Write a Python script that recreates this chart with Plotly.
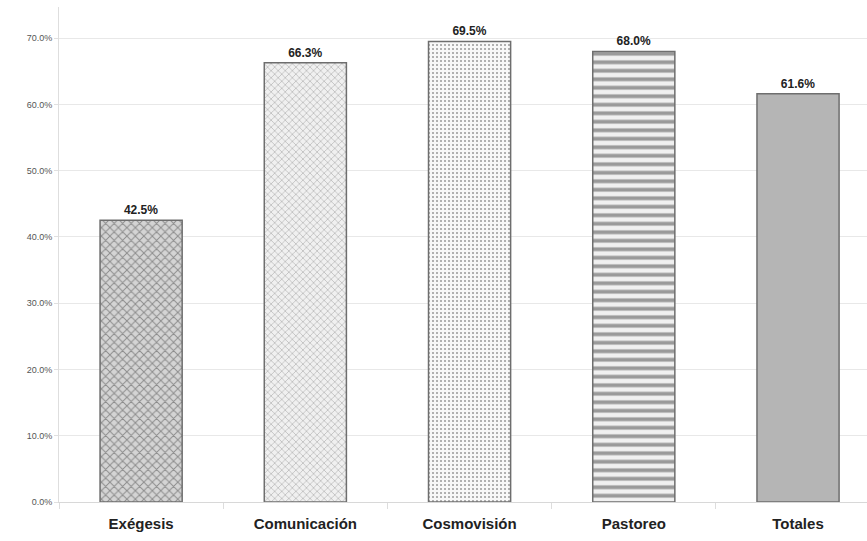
import plotly.graph_objects as go

categories = ["Exégesis", "Comunicación", "Cosmovisión", "Pastoreo", "Totales"]
values = [42.5, 66.3, 69.5, 68.0, 61.6]
y_ticks = [0, 10, 20, 30, 40, 50, 60, 70]

shapes = ["x", "x", ".", "-", ""]
bgcolors = ["#d4d4d4", "#f0f0f0", "#f8f8f8", "#f0f0f0", "#b5b5b5"]
fgcolors = ["#f2f2f2", "#a0a0a0", "#cfcfcf", "#cccccc", "#b5b5b5"]
psizes = [6, 5, 4, 8.5, 8]
solid = [0.3, 0.18, 0.22, 0.45, 0.3]

fig = go.Figure(go.Bar(
    x=categories, y=values, width=0.5,
    marker=dict(
        color=bgcolors,
        line=dict(color="#6e6e6e", width=1.5),
        pattern=dict(shape=shapes, bgcolor=bgcolors, fgcolor=fgcolors,
                     size=psizes, solidity=solid),
    ),
    texttemplate="%{y:.1f}%", textposition="outside", cliponaxis=False,
    textfont=dict(family="Liberation Sans", size=12, color="#222222", weight="bold"),
))

fig.update_layout(
    width=867, height=541,
    margin=dict(l=59, r=0, t=7, b=39),
    paper_bgcolor="white", plot_bgcolor="white",
    showlegend=False, bargap=0.5,
    xaxis=dict(
        range=[-0.5, 4.42], showgrid=False,
        showline=True, linecolor="#d8d8d8", linewidth=1,
        ticks="outside", tickson="boundaries", ticklen=6, tickcolor="#dddddd",
        ticklabelstandoff=8,
        tickfont=dict(family="Liberation Sans", size=15, color="#222222", weight="bold"),
    ),
    yaxis=dict(
        range=[0, 74.7], tickvals=y_ticks, ticktext=[f"{v:.1f}%" for v in y_ticks],
        showgrid=True, gridcolor="#e8e8e8", gridwidth=1,
        showline=True, linecolor="#dedede", linewidth=1,
        zeroline=False,
        ticks="outside", ticklen=4, tickcolor="#e0e0e0",
        tickfont=dict(family="Liberation Sans", size=9, color="#555555"),
    ),
)

fig.write_html("out.html", config={"displayModeBar": False},
               post_script="document.body.style.margin='0';")
